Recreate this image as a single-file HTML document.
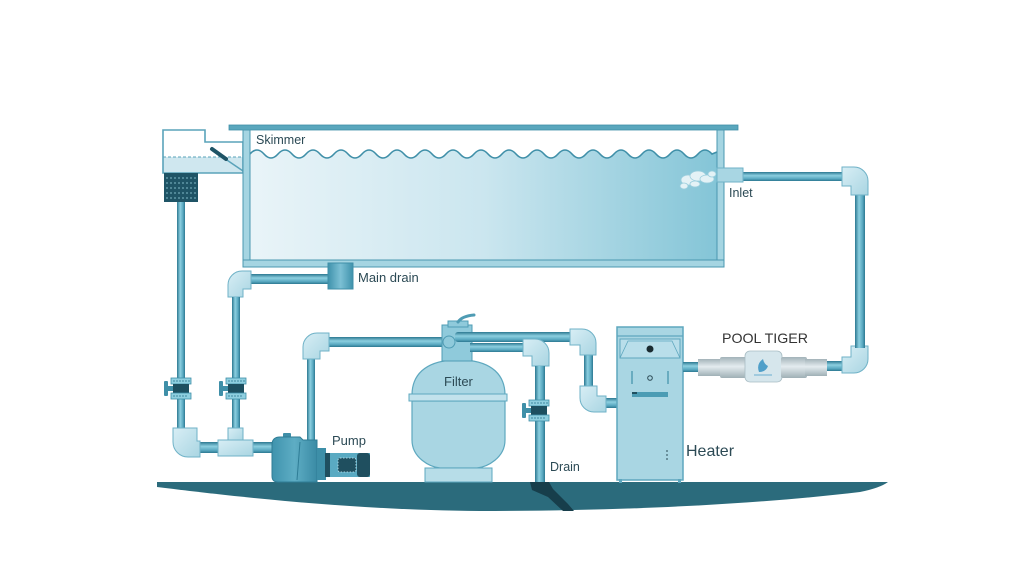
<!DOCTYPE html>
<html><head><meta charset="utf-8"><style>
html,body{margin:0;padding:0;background:#fff;}
svg{display:block;}
text{font-family:"Liberation Sans",sans-serif;fill:#2c4a55;}
</style></head><body>
<svg width="1024" height="566" viewBox="0 0 1024 566" xmlns="http://www.w3.org/2000/svg">
<defs>
<linearGradient id="water" x1="0" y1="0" x2="1" y2="0">
<stop offset="0" stop-color="#e9f4f8"/><stop offset="0.5" stop-color="#cbe6ef"/><stop offset="1" stop-color="#84c5d7"/>
</linearGradient>
<linearGradient id="pv" x1="0" y1="0" x2="1" y2="0">
<stop offset="0" stop-color="#2c7891"/><stop offset="0.4" stop-color="#8ccfe0"/><stop offset="0.75" stop-color="#5aa9c1"/><stop offset="1" stop-color="#2c7891"/>
</linearGradient>
<linearGradient id="ph" x1="0" y1="0" x2="0" y2="1">
<stop offset="0" stop-color="#2c7891"/><stop offset="0.4" stop-color="#8ccfe0"/><stop offset="0.75" stop-color="#5aa9c1"/><stop offset="1" stop-color="#2c7891"/>
</linearGradient>
<linearGradient id="fit" x1="0" y1="0" x2="1" y2="1">
<stop offset="0" stop-color="#d8eef5"/><stop offset="1" stop-color="#a9d5e2"/>
</linearGradient>
<linearGradient id="tig" x1="0" y1="0" x2="0" y2="1">
<stop offset="0" stop-color="#a3b3b9"/><stop offset="0.45" stop-color="#e4ecef"/><stop offset="1" stop-color="#9fb0b6"/>
</linearGradient>
<linearGradient id="pump" x1="0" y1="0" x2="1" y2="0">
<stop offset="0" stop-color="#3f93ad"/><stop offset="0.5" stop-color="#5eadc4"/><stop offset="1" stop-color="#3a8ba5"/>
</linearGradient>
<linearGradient id="drainbox" x1="0" y1="0" x2="1" y2="0">
<stop offset="0" stop-color="#3f92ac"/><stop offset="0.5" stop-color="#7cc0d4"/><stop offset="1" stop-color="#3f92ac"/>
</linearGradient>
<g id="valve">
<rect x="0" y="3" width="4" height="15" rx="1" fill="#3f8fa8"/>
<rect x="3" y="8" width="6" height="5" fill="#3f8fa8"/>
<rect x="7" y="0" width="20" height="6" fill="#8fcfe0" stroke="#3f8fa8" stroke-width="0.8"/>
<rect x="9" y="6" width="16" height="9" fill="#1d4f60"/>
<rect x="7" y="15" width="20" height="6" fill="#8fcfe0" stroke="#3f8fa8" stroke-width="0.8"/>
<path d="M10,2v2M13,2v2M16,2v2M19,2v2M22,2v2M25,2v2M10,17v2M13,17v2M16,17v2M19,17v2M22,17v2" stroke="#2c7891" stroke-width="0.8"/>
</g>
</defs>

<!-- Ground -->
<path d="M157,482 L888,482 Q880,488 860,492 C750,505 620,511 480,511 C350,510 230,496 157,487 Z" fill="#2b6b7c"/>
<path d="M530,482 H549 L553,489 L568,504 L574,511 H563 L548,497 L532,490 Z" fill="#173e4b"/>

<!-- Pool water -->
<path d="M250,154 q7,-8 14,0 t14,0 t14,0 t14,0 t14,0 t14,0 t14,0 t14,0 t14,0 t14,0 t14,0 t14,0 t14,0 t14,0 t14,0 t14,0 t14,0 t14,0 t14,0 t14,0 t14,0 t14,0 t14,0 t14,0 t14,0 t14,0 t14,0 t14,0 t14,0 t14,0 t14,0 t14,0 t14,0 L717,152 L717,260 L250,260 Z" fill="url(#water)"/>
<path d="M250,154 q7,-8 14,0 t14,0 t14,0 t14,0 t14,0 t14,0 t14,0 t14,0 t14,0 t14,0 t14,0 t14,0 t14,0 t14,0 t14,0 t14,0 t14,0 t14,0 t14,0 t14,0 t14,0 t14,0 t14,0 t14,0 t14,0 t14,0 t14,0 t14,0 t14,0 t14,0 t14,0 t14,0 t14,0 L717,152" fill="none" stroke="#3f8fa8" stroke-width="1.6"/>

<!-- Skimmer -->
<path d="M163,157 H250 V173 H163 Z" fill="#cfe7ef"/>
<path d="M163,130 H205 V142 H243 V173 H163 Z" fill="none" stroke="#5aa3ba" stroke-width="1.6"/>
<line x1="163" y1="157" x2="243" y2="157" stroke="#5aa3ba" stroke-width="1" stroke-dasharray="3,2"/>
<line x1="218" y1="154" x2="246" y2="173" stroke="#5aa3ba" stroke-width="1.5"/>
<line x1="212" y1="149" x2="226" y2="159" stroke="#1f5466" stroke-width="4" stroke-linecap="round"/>
<rect x="164" y="173" width="34" height="29" fill="#1f5466"/>
<path d="M166,178h30M166,183h30M166,188h30M166,193h30M166,198h30" stroke="#7fb7c7" stroke-width="1" stroke-dasharray="2,2"/>

<!-- Pool walls -->
<rect x="229" y="125" width="509" height="5" fill="#5aa7bd" stroke="#3f8fa8" stroke-width="0.8"/>
<rect x="243" y="130" width="7" height="137" fill="#a5d5e2" stroke="#4a98b0" stroke-width="1"/>
<rect x="717" y="130" width="7" height="137" fill="#a5d5e2" stroke="#4a98b0" stroke-width="1"/>
<rect x="243" y="260" width="481" height="7" fill="#a5d5e2" stroke="#4a98b0" stroke-width="1"/>

<!-- Inlet spray -->
<g fill="#eef7fa" stroke="#9ccfde" stroke-width="0.8" opacity="0.9">
<ellipse cx="688" cy="180" rx="7" ry="5"/><ellipse cx="698" cy="176" rx="8" ry="5"/><ellipse cx="707" cy="179" rx="7" ry="4"/>
<ellipse cx="684" cy="186" rx="4" ry="3"/><ellipse cx="695" cy="184" rx="5" ry="3"/><ellipse cx="712" cy="174" rx="4" ry="3"/>
</g>

<!-- Main drain + pipe -->
<rect x="250" y="274" width="80" height="10" fill="url(#ph)"/>
<rect x="328" y="263" width="25" height="26" fill="url(#drainbox)" stroke="#3f8fa8" stroke-width="1"/>
<path d="M228,297 V285 A14,14 0 0 1 242,271 H251 V289 H243 V297 Z" fill="url(#fit)" stroke="#6fb2c7" stroke-width="1"/>

<!-- Left vertical pipes -->
<rect x="177" y="202" width="8" height="228" fill="url(#pv)"/>
<rect x="232" y="297" width="8" height="133" fill="url(#pv)"/>
<use href="#valve" x="164" y="378"/>
<use href="#valve" x="219" y="378"/>

<!-- Bottom-left piping -->
<rect x="198" y="442" width="76" height="11" fill="url(#ph)"/>
<path d="M173,428 H197 V441 H200 V457 H188 A15,15 0 0 1 173,442 Z" fill="url(#fit)" stroke="#6fb2c7" stroke-width="1"/>
<rect x="228" y="428" width="15" height="14" fill="url(#fit)" stroke="#6fb2c7" stroke-width="1"/>
<rect x="218" y="440" width="35" height="16" fill="url(#fit)" stroke="#6fb2c7" stroke-width="1"/>

<!-- Pump discharge pipe -->
<rect x="307" y="358" width="8" height="84" fill="url(#pv)"/>
<rect x="328" y="337" width="118" height="10" fill="url(#ph)"/>
<path d="M303,359 V347 A14,14 0 0 1 317,333 H329 V351 H320 V359 Z" fill="url(#fit)" stroke="#6fb2c7" stroke-width="1"/>

<!-- Pump -->
<rect x="283" y="433" width="8" height="5" rx="1" fill="#3f8fa8"/>
<path d="M272,445 Q272,437 280,437 H300 L303,440 H317 V482 H278 Q272,482 272,476 Z" fill="url(#pump)" stroke="#2f7d96" stroke-width="1"/>
<line x1="300" y1="442" x2="297" y2="480" stroke="#2f7d96" stroke-width="1"/>
<rect x="317" y="448" width="9" height="32" fill="#3d8fa8"/>
<rect x="325" y="453" width="45" height="24" fill="#5aaac2"/>
<rect x="325" y="453" width="5" height="24" fill="#1f4f5f"/>
<rect x="357" y="453" width="13" height="24" rx="3" fill="#1f4f5f"/>
<rect x="338" y="458" width="18" height="14" rx="2" fill="#1f4f5f" stroke="#a9d5e2" stroke-width="1" stroke-dasharray="1.5,1.5"/>

<!-- Filter -->
<path d="M412,395 C412,375 425,362 452,360 L465,360 C492,362 505,375 505,395 Z" fill="#a9d6e3" stroke="#5ea8bf" stroke-width="1.2"/>
<path d="M412,401 L412,440 C412,458 430,467 440,468 L477,468 C487,467 505,458 505,440 L505,401 Z" fill="#a9d6e3" stroke="#5ea8bf" stroke-width="1.2"/>
<rect x="409" y="394" width="98" height="7" fill="#c2e2ec" stroke="#5ea8bf" stroke-width="1"/>
<rect x="425" y="468" width="67" height="14" fill="#b7dde8" stroke="#5ea8bf" stroke-width="1"/>

<!-- Filter valve & pipes -->
<rect x="442" y="325" width="30" height="36" fill="#8fcadb" stroke="#4f9cb4" stroke-width="1"/>
<rect x="448" y="321" width="20" height="6" fill="#8fcadb" stroke="#4f9cb4" stroke-width="1"/>
<path d="M458,322 Q462,316 474,315" fill="none" stroke="#4f9cb4" stroke-width="3" stroke-linecap="round"/>
<circle cx="449" cy="342" r="6" fill="#8fcadb" stroke="#4f9cb4" stroke-width="1"/>
<rect x="470" y="343" width="55" height="9" fill="url(#ph)"/>
<rect x="455" y="332" width="117" height="10" rx="3" fill="url(#ph)"/>
<path d="M523,339 H535 A14,14 0 0 1 549,353 V366 H532 V356 H523 Z" fill="url(#fit)" stroke="#6fb2c7" stroke-width="1"/>
<rect x="535" y="366" width="10" height="116" fill="url(#pv)"/>
<use href="#valve" x="522" y="400"/>

<!-- Pipes to heater -->
<rect x="584" y="355" width="9" height="33" fill="url(#pv)"/>
<path d="M570,329 H582 A14,14 0 0 1 596,343 V355 H580 V345 H570 Z" fill="url(#fit)" stroke="#6fb2c7" stroke-width="1"/>
<rect x="604" y="398" width="14" height="10" fill="url(#ph)"/>
<path d="M580,386 H597 V396 H606 V412 H594 A14,14 0 0 1 580,398 Z" fill="url(#fit)" stroke="#6fb2c7" stroke-width="1"/>

<!-- Heater -->
<rect x="617" y="327" width="66" height="153" fill="#a9d6e3" stroke="#5ea7be" stroke-width="1.5"/>
<line x1="617" y1="336" x2="683" y2="336" stroke="#5ea7be" stroke-width="1.2"/>
<rect x="620" y="339" width="60" height="19" fill="#b9deea" stroke="#5ea7be" stroke-width="1"/>
<path d="M620,358 L628,341 H672 L680,358" fill="none" stroke="#5ea7be" stroke-width="0.8"/>
<circle cx="650" cy="349" r="3.5" fill="#1a2a30"/>
<line x1="632" y1="371" x2="632" y2="384" stroke="#3f8fa8" stroke-width="1.2"/>
<line x1="668" y1="371" x2="668" y2="384" stroke="#3f8fa8" stroke-width="1.2"/>
<circle cx="650" cy="378" r="2.3" fill="none" stroke="#2c4a55" stroke-width="1"/>
<rect x="632" y="392" width="36" height="5" fill="#4b9cb4"/>
<rect x="632" y="392" width="5" height="2" fill="#1f4f5f"/>
<path d="M667,450v2M667,454v2M667,458v2" stroke="#2c4a55" stroke-width="1"/>
<rect x="619" y="479" width="3" height="4" fill="#5ea7be"/><rect x="678" y="479" width="3" height="4" fill="#5ea7be"/>

<!-- Pool Tiger line -->
<rect x="683" y="362" width="16" height="10" fill="url(#ph)"/>
<rect x="826" y="361" width="18" height="10" fill="url(#ph)"/>
<rect x="698" y="359" width="24" height="17" fill="url(#tig)"/>
<rect x="720" y="357" width="27" height="21" rx="2" fill="url(#tig)"/>
<rect x="745" y="351" width="37" height="31" rx="5" fill="#d6e6ec" stroke="#a8bcc3" stroke-width="0.8"/>
<rect x="781" y="357" width="26" height="21" rx="2" fill="url(#tig)"/>
<rect x="805" y="359" width="22" height="17" fill="url(#tig)"/>
<path d="M759,372 q-3,-8 4,-13 q1,5 5,7 q-2,6 -9,6 Z" fill="#4f9fc9"/>
<line x1="754" y1="375" x2="772" y2="375" stroke="#6aaed0" stroke-width="1"/>
<path d="M868,346 V359 A14,14 0 0 1 854,373 H842 V357 H851 V346 Z" fill="url(#fit)" stroke="#6fb2c7" stroke-width="1"/>
<rect x="855" y="193" width="10" height="155" fill="url(#pv)"/>

<!-- Inlet pipe -->
<rect x="741" y="172" width="103" height="9" fill="url(#ph)"/>
<rect x="717" y="168" width="26" height="14" fill="#a8d6e3" stroke="#6fb2c7" stroke-width="1"/>
<path d="M842,167 H854 A14,14 0 0 1 868,181 V195 H851 V186 H842 Z" fill="url(#fit)" stroke="#6fb2c7" stroke-width="1"/>

<!-- Labels -->
<text x="256" y="144" font-size="12.5">Skimmer</text>
<text x="358" y="282" font-size="13">Main drain</text>
<text x="729" y="197" font-size="12.5">Inlet</text>
<text x="722" y="343" font-size="14" textLength="86" lengthAdjust="spacingAndGlyphs" style="fill:#333">POOL TIGER</text>
<text x="444" y="386" font-size="13">Filter</text>
<text x="332" y="445" font-size="13">Pump</text>
<text x="550" y="471" font-size="12.5">Drain</text>
<text x="686" y="456" font-size="16">Heater</text>
</svg>
</body></html>
